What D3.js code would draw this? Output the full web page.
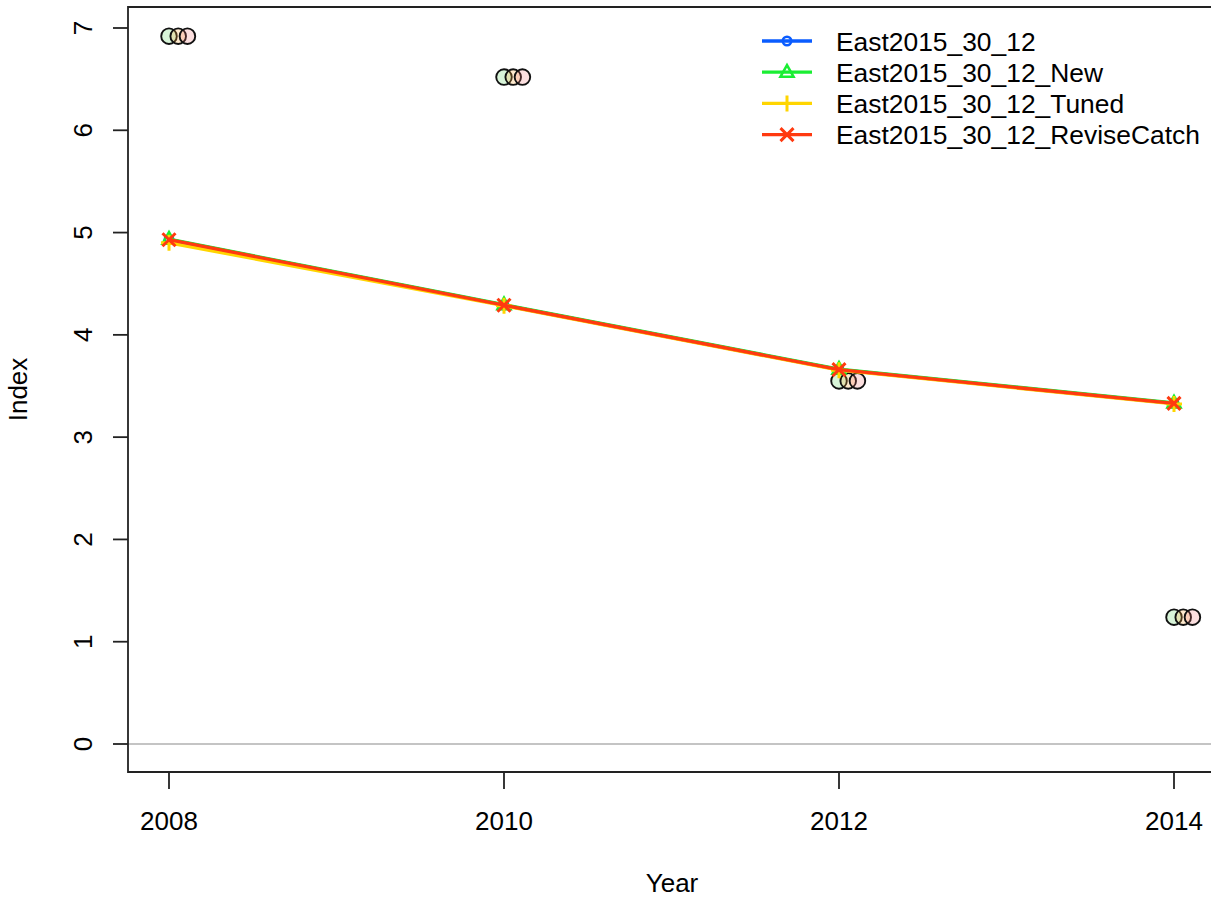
<!DOCTYPE html>
<html><head><meta charset="utf-8">
<script src="https://cdn.jsdelivr.net/npm/d3@7"></script>
<style>html,body{margin:0;padding:0;background:#fff;}svg{display:block;}text{font-family:"Liberation Sans",Arial,sans-serif;fill:#000;}</style>
</head><body>
<script>
const years = [2008, 2010, 2012, 2014];
const seriesNames = ["East2015_30_12", "East2015_30_12_New", "East2015_30_12_Tuned", "East2015_30_12_ReviseCatch"];
const seriesColors = ["#0a5cff", "#1aee33", "#ffd500", "#ff3a10"];
const seriesShapes = ["circle", "triangle", "plus", "cross"];
const valsBase = [4.93, 4.29, 3.66, 3.33];
const valsNew = [4.935, 4.295, 3.665, 3.335];
const valsTuned = [4.90, 4.285, 3.655, 3.325];
const valsRevise = [4.93, 4.29, 3.66, 3.33];
const observed = [6.92, 6.52, 3.55, 1.24];
const obsFills = ["rgba(60,200,60,0.2)", "rgba(250,170,60,0.25)", "rgba(240,110,110,0.22)"];
const yTicks = [0, 1, 2, 3, 4, 5, 6, 7];
const xTicks = [2008, 2010, 2012, 2014];

const seriesVals = [valsBase, valsNew, valsTuned, valsRevise];
const W = 1211, H = 899;
const box = {l: 128, t: 7, r: 1216, b: 772};
const x = d3.scaleLinear().domain([2008, 2014]).range([169, 1174]);
const y = d3.scaleLinear().domain([0, 7]).range([744, 28]);

const svg = d3.select("body").append("svg").attr("width", W).attr("height", H);

svg.append("line").attr("x1", box.l).attr("x2", W).attr("y1", y(0)).attr("y2", y(0))
  .attr("stroke", "#c4c4c4").attr("stroke-width", 2);

const offsets = [0, 0.055, 0.11];
offsets.forEach((off, k) => {
  svg.append("g").selectAll("circle").data(observed).join("circle")
    .attr("cx", (d, i) => x(years[i] + off)).attr("cy", d => y(d)).attr("r", 7.8)
    .attr("fill", obsFills[k]).attr("stroke", "#111").attr("stroke-width", 1.9);
});

function marker(g, shape, color, cx, cy) {
  const s = 6.5;
  if (shape === "circle") {
    g.append("circle").attr("cx", cx).attr("cy", cy).attr("r", 4.2).attr("fill", "none").attr("stroke", color).attr("stroke-width", 2.6);
  } else if (shape === "triangle") {
    g.append("path").attr("d", `M${cx},${cy - 7}L${cx + 6.5},${cy + 4.5}L${cx - 6.5},${cy + 4.5}Z`).attr("fill", "none").attr("stroke", color).attr("stroke-width", 2.6);
  } else if (shape === "plus") {
    g.append("path").attr("d", `M${cx - 8},${cy}H${cx + 8}M${cx},${cy - 8}V${cy + 8}`).attr("stroke", color).attr("stroke-width", 3);
  } else {
    g.append("path").attr("d", `M${cx - s},${cy - s}L${cx + s},${cy + s}M${cx - s},${cy + s}L${cx + s},${cy - s}`).attr("stroke", color).attr("stroke-width", 3);
  }
}

const line = d3.line().x((d, i) => x(years[i])).y(d => y(d));
seriesVals.forEach((vals, k) => {
  const g = svg.append("g");
  g.append("path").datum(vals).attr("d", line).attr("fill", "none")
    .attr("stroke", seriesColors[k]).attr("stroke-width", 3.3).attr("stroke-linejoin", "round");
  vals.forEach((v, i) => marker(g, seriesShapes[k], seriesColors[k], x(years[i]), y(v)));
});

svg.append("path").attr("d", `M${box.r},${box.t}H${box.l}V${box.b}H${box.r}`)
  .attr("fill", "none").attr("stroke", "#222").attr("stroke-width", 1.8);

const ya = svg.append("g");
yTicks.forEach(t => {
  ya.append("line").attr("x1", box.l - 15).attr("x2", box.l).attr("y1", y(t)).attr("y2", y(t)).attr("stroke", "#222").attr("stroke-width", 1.8);
  ya.append("text").attr("transform", `translate(92,${y(t)}) rotate(-90)`).attr("text-anchor", "middle")
    .attr("font-size", 26).text(t);
});
const xa = svg.append("g");
xTicks.forEach(t => {
  xa.append("line").attr("x1", x(t)).attr("x2", x(t)).attr("y1", box.b).attr("y2", box.b + 17).attr("stroke", "#222").attr("stroke-width", 1.8);
  xa.append("text").attr("x", x(t)).attr("y", 830).attr("text-anchor", "middle").attr("font-size", 26).text(t);
});
svg.append("text").attr("x", 672).attr("y", 892).attr("text-anchor", "middle").attr("font-size", 26).text("Year");
svg.append("text").attr("transform", `translate(27,${(box.t + box.b) / 2}) rotate(-90)`).attr("text-anchor", "middle").attr("font-size", 26).text("Index");

const lg = svg.append("g");
seriesNames.forEach((name, k) => {
  const cy = 41 + k * 31.2;
  lg.append("line").attr("x1", 762).attr("x2", 812).attr("y1", cy).attr("y2", cy).attr("stroke", seriesColors[k]).attr("stroke-width", 3.3);
  marker(lg, seriesShapes[k], seriesColors[k], 787, cy);
  lg.append("text").attr("x", 836).attr("y", cy + 9.5).attr("font-size", 26.4).text(name);
});
</script>
</body></html>
